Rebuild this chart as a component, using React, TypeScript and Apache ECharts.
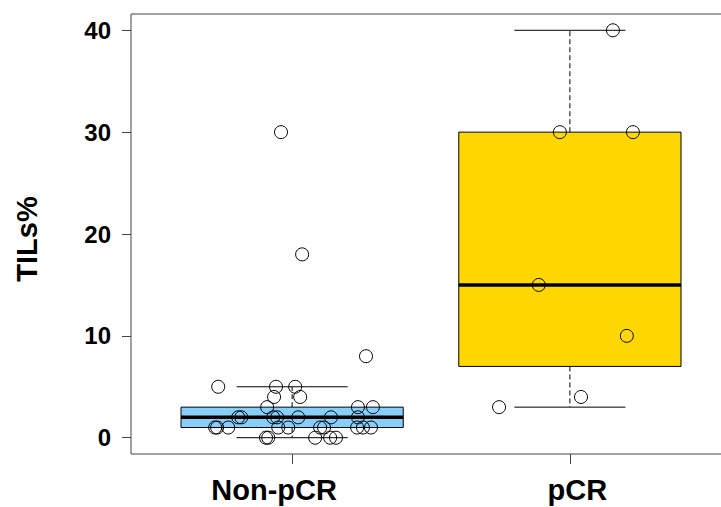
import React, { useEffect, useRef } from "react";
import * as echarts from "echarts";

const categories = ["Non-pCR", "pCR"];
const yTicks = [0, 10, 20, 30, 40];
// min, lower hinge, median, upper hinge, max (whisker ends)
const nonPcrBox = [0, 1, 2, 3, 5];
const pcrBox = [3, 7, 15, 30, 40];
const boxColors = ["#87CEFA", "#FFD700"];

const nonPcrValues = [5, 5, 5, 4, 4, 8, 3, 3, 3, 2, 2, 2, 2, 2, 2, 2, 1, 1, 1, 1, 1, 1, 1, 1, 1, 1, 0, 0, 0, 0, 0, 30, 18];
const nonPcrJitterX = [0.734, 0.942, 1.011, 0.935, 1.029, 1.266, 0.91, 1.237, 1.291, 0.806, 0.817, 0.932, 0.946, 1.022, 1.14, 1.237, 0.723, 0.73, 0.77, 0.95, 0.986, 1.101, 1.115, 1.234, 1.255, 1.284, 0.906, 0.914, 1.083, 1.137, 1.158, 0.96, 1.036];

const pcrValues = [40, 30, 30, 15, 10, 4, 3];
const pcrJitterX = [2.155, 1.964, 2.227, 1.888, 2.205, 2.04, 1.745];

const FONT = "'Liberation Sans', Arial, sans-serif";

export default function App() {
  const ref = useRef<HTMLDivElement>(null);
  useEffect(() => {
    if (!ref.current) return;
    const chart = echarts.init(ref.current, null, { renderer: "svg" });
    const boxData = [
      [1, ...nonPcrBox, 0],
      [2, ...pcrBox, 1],
    ];
    const labelStyle = { fontSize: 29, fontWeight: "bold", fontFamily: FONT, color: "#000" };
    chart.setOption({
      animation: false,
      backgroundColor: "#fff",
      grid: {
        left: 131,
        top: 14,
        width: 600,
        height: 440,
        outerBoundsMode: "none",
        containLabel: false,
        show: true,
        borderColor: "#444",
        borderWidth: 1,
        backgroundColor: "transparent",
      },
      xAxis: {
        type: "value",
        min: 0.42,
        max: 2.58,
        axisLine: { show: false, onZero: false },
        splitLine: { show: false },
        axisTick: {
          show: true,
          customValues: [1, 2],
          length: 10,
          lineStyle: { color: "#444", width: 1 },
        },
        axisLabel: {
          customValues: [1, 2],
          formatter: (v: number) => (Math.round(v) === 1 ? `{a|${categories[0]}}` : `{b|${categories[1]}}`),
          ...labelStyle,
          rich: {
            a: { ...labelStyle, padding: [0, 36, 0, 0] },
            b: { ...labelStyle, padding: [0, 0, 0, 15] },
          },
          margin: 21,
        },
      },
      yAxis: {
        type: "value",
        min: -1.6,
        max: 41.6,
        axisLine: { show: false, onZero: false },
        splitLine: { show: false },
        axisTick: {
          show: true,
          customValues: yTicks,
          length: 9,
          lineStyle: { color: "#444", width: 1 },
        },
        axisLabel: {
          customValues: yTicks,
          fontSize: 24,
          fontWeight: "bold",
          fontFamily: FONT,
          color: "#000",
          margin: 20,
        },
      },
      graphic: [
        {
          type: "text",
          x: 27,
          y: 239,
          rotation: Math.PI / 2,
          style: {
            text: "TILs%",
            font: `bold 29px ${FONT}`,
            fill: "#000",
            align: "center",
            verticalAlign: "middle",
          },
        },
      ],
      series: [
        {
          type: "custom",
          data: boxData,
          encode: { x: 0, y: [1, 2, 3, 4, 5] },
          z: 2,
          renderItem: (params: any, api: any) => {
            const x = api.value(0);
            const mn = api.value(1);
            const q1 = api.value(2);
            const med = api.value(3);
            const q3 = api.value(4);
            const mx = api.value(5);
            const ci = api.value(6);
            const c = (xx: number, yy: number) => api.coord([xx, yy]);
            const half = 0.4;
            const cap = 0.2;
            const pTopL = c(x - half, q3);
            const pBotR = c(x + half, q1);
            const mk = (a: number[], b: number[], style: any) => ({
              type: "line",
              shape: { x1: a[0], y1: a[1], x2: b[0], y2: b[1] },
              style: Object.assign({ stroke: "#000", lineWidth: 1 }, style),
            });
            return {
              type: "group",
              children: [
                mk(c(x, q3), c(x, mx), { lineDash: [5, 3] }),
                mk(c(x, q1), c(x, mn), { lineDash: [5, 3] }),
                mk(c(x - cap, mx), c(x + cap, mx), {}),
                mk(c(x - cap, mn), c(x + cap, mn), {}),
                {
                  type: "rect",
                  shape: {
                    x: pTopL[0],
                    y: pTopL[1],
                    width: pBotR[0] - pTopL[0],
                    height: pBotR[1] - pTopL[1],
                  },
                  style: { fill: boxColors[ci], stroke: "#000", lineWidth: 1 },
                },
                mk(c(x - half, med), c(x + half, med), { lineWidth: 3.5 }),
              ],
            };
          },
        },
        {
          type: "scatter",
          z: 5,
          symbol: "circle",
          symbolSize: 13,
          itemStyle: { color: "transparent", borderColor: "#000", borderWidth: 1, opacity: 1 },
          data: nonPcrJitterX.map((x, i) => [x, nonPcrValues[i]]),
        },
        {
          type: "scatter",
          z: 5,
          symbol: "circle",
          symbolSize: 13,
          itemStyle: { color: "transparent", borderColor: "#000", borderWidth: 1, opacity: 1 },
          data: pcrJitterX.map((x, i) => [x, pcrValues[i]]),
        },
      ],
    });
    return () => chart.dispose();
  }, []);
  return (
    <div
      ref={ref}
      style={{ position: "fixed", left: 0, top: 0, width: 721, height: 507, background: "#fff" }}
    />
  );
}
